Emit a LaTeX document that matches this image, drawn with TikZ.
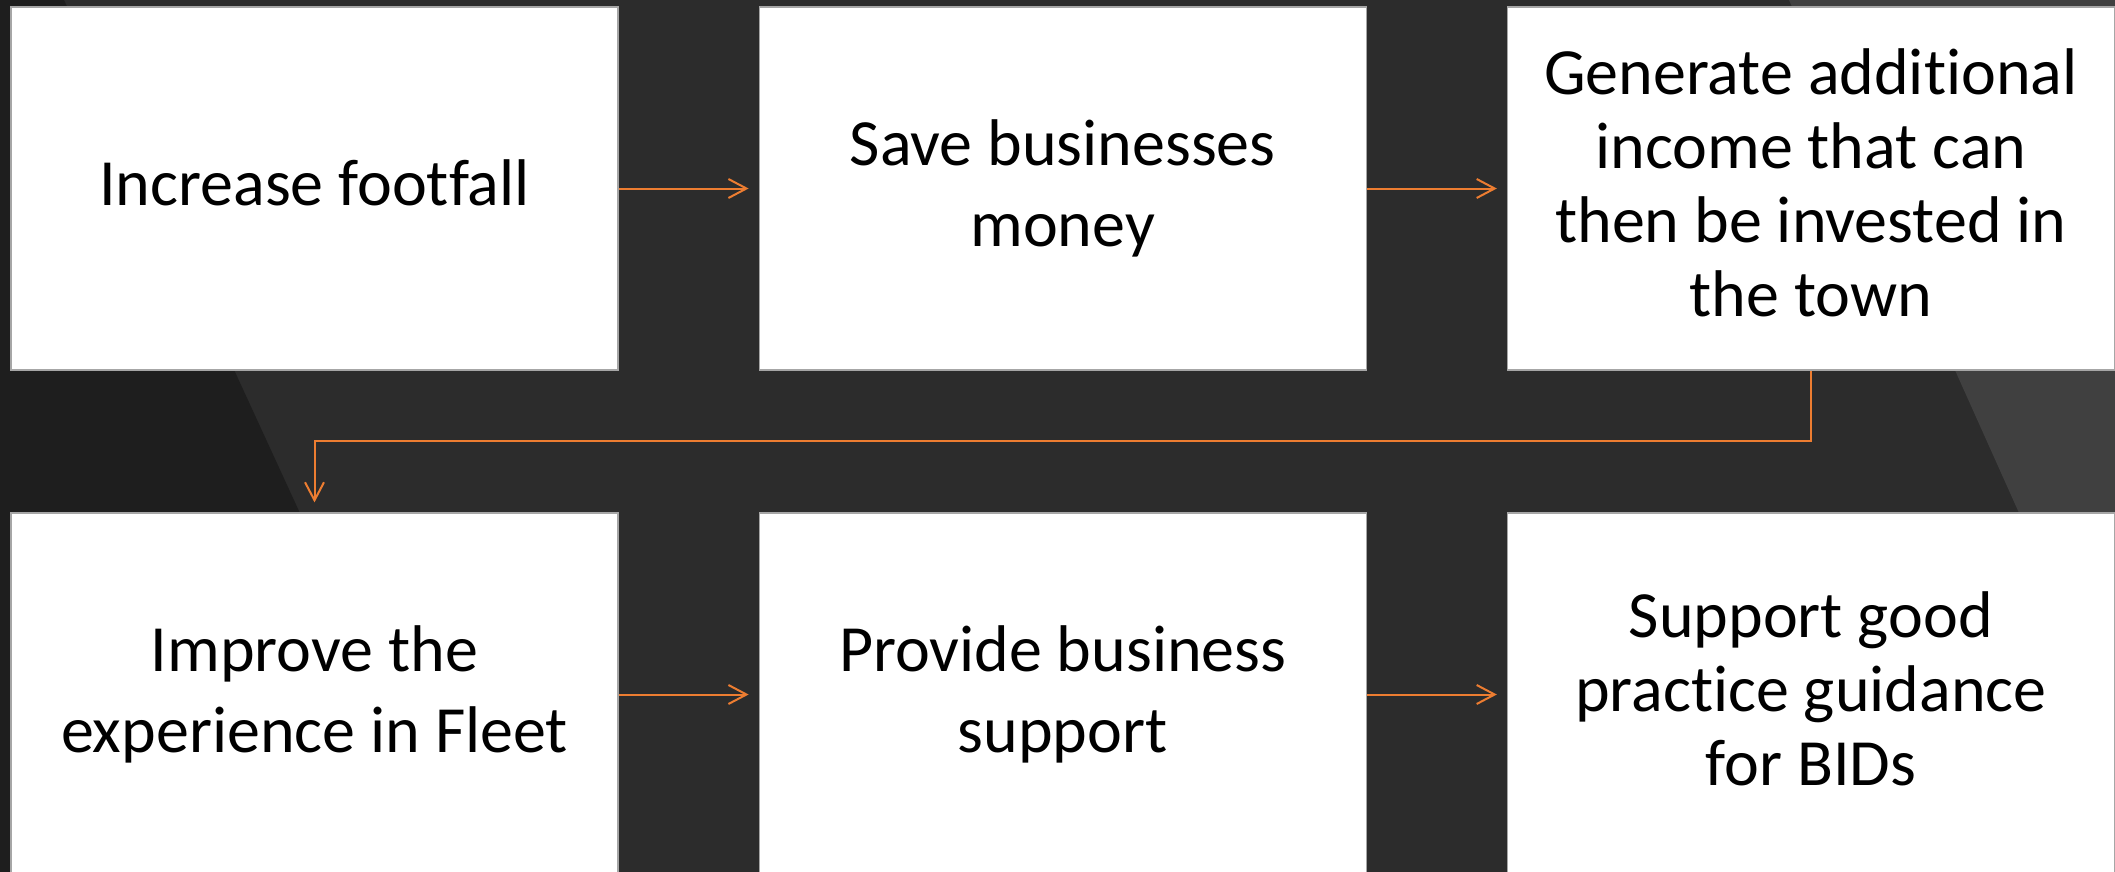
\documentclass[tikz,border=0pt]{standalone}
\usepackage{fontspec}
\setmainfont{Carlito}[Ligatures={NoCommon,NoContextual}]
\usetikzlibrary{positioning}
\usetikzlibrary{arrows.meta}
\definecolor{slide}{HTML}{2C2C2C}
\definecolor{slidedark}{HTML}{1E1E1E}
\definecolor{slidelight}{HTML}{404040}
\definecolor{accent}{HTML}{ED7D31}
% invisible prop so every line box has the same height and depth
\newcommand{\lineprop}{\rule[-11.1pt]{0pt}{39.6pt}}
\tikzset{node distance=70pt,
    goal/.style={
        rectangle,
        fill=white,
        draw=gray!70,
        line width=0.6pt,
        minimum width=303.5pt,
        minimum height=181.5pt,
        inner sep=0pt,
        align=center,
        font=\fontsize{33}{37}\selectfont},
    flow/.style={
        draw=accent,
        line width=1pt,
        -{Straight Barb[length=9pt,width=9.5pt]},
        shorten >=5pt}}
\begin{document}
\begin{tikzpicture}[x=0.5pt,y=-0.5pt]
        \useasboundingbox (0,0) rectangle (2115,872);
        \clip (0,0) rectangle (2115,872);

        % backdrop with the two slanted panels
        \fill[slide] (0,0) rectangle (2115,872);
        \fill[slidedark] (0,0) -- (64,0) -- (465,872) -- (0,872) -- cycle;
        \fill[slidelight] (1789,0) -- (2115,0) -- (2115,727) -- cycle;

        \node[goal] (footfall) at (314.5,188.5) {\lineprop Increase footfall\lineprop};
        \node[goal,right=of footfall] (money) {\lineprop Save businesses\\money\lineprop};
        \node[goal,right=of money] (income) {\lineprop Generate additional\\income that can\\then be invested in\\the town\lineprop};

        \node[goal] (experience) at (314.5,694.5) {\lineprop Improve the\\experience in Fleet\lineprop};
        \node[goal,right=of experience] (support) {\lineprop Provide business\\support\lineprop};
        \node[goal,right=of support] (guidance) {\lineprop Support good\\practice guidance\\for BIDs\lineprop};

        \draw[flow] (footfall) -- (money);
        \draw[flow] (money) -- (income);
        \draw[flow] (income.south) -- ++(0,70) -| (experience.north);
        \draw[flow] (experience) -- (support);
        \draw[flow] (support) -- (guidance);
    \end{tikzpicture}
\end{document}
